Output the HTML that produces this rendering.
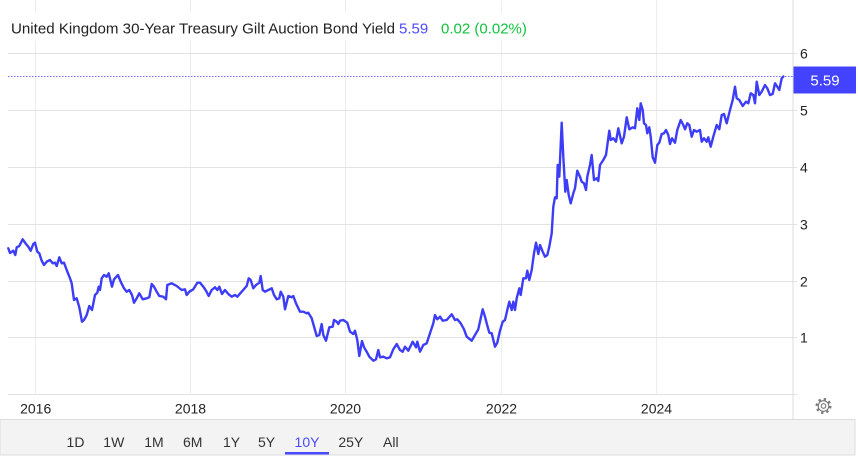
<!DOCTYPE html>
<html><head><meta charset="utf-8"><style>
html,body{margin:0;padding:0;background:#fff;}
svg{display:block;}
text{font-family:"Liberation Sans",Arial,sans-serif;}
</style></head><body>
<svg width="858" height="457" viewBox="0 0 858 457" xmlns="http://www.w3.org/2000/svg">
<rect width="858" height="457" fill="#fff"/>
<g stroke="#e9eef2" stroke-width="1">
<line x1="35.5" y1="0" x2="35.5" y2="394.5"/>
<line x1="190.5" y1="0" x2="190.5" y2="394.5"/>
<line x1="345.5" y1="0" x2="345.5" y2="394.5"/>
<line x1="501.5" y1="0" x2="501.5" y2="394.5"/>
<line x1="656.5" y1="0" x2="656.5" y2="394.5"/>
</g>
<g stroke="#e3e3e3" stroke-width="1">
<line x1="8" y1="53.5" x2="797" y2="53.5"/>
<line x1="8" y1="110.5" x2="797" y2="110.5"/>
<line x1="8" y1="167.5" x2="797" y2="167.5"/>
<line x1="8" y1="224.5" x2="797" y2="224.5"/>
<line x1="8" y1="281.5" x2="797" y2="281.5"/>
<line x1="8" y1="337.5" x2="797" y2="337.5"/>
<line x1="8" y1="394.5" x2="797" y2="394.5"/>
</g>
<line x1="793" y1="0" x2="793" y2="420" stroke="#dddddd" stroke-width="1"/>
<rect x="0" y="13" width="535" height="27.5" fill="#fff"/>
<text x="11" y="33.3" font-size="15" fill="#222" textLength="384" lengthAdjust="spacingAndGlyphs">United Kingdom 30-Year Treasury Gilt Auction Bond Yield</text>
<text x="399" y="33.3" font-size="15" fill="#4b4bff">5.59</text>
<text x="441" y="33.3" font-size="15" fill="#12c23e">0.02 (0.02%)</text>
<line x1="8" y1="76.5" x2="793" y2="76.5" stroke="#6f6fff" stroke-width="1" stroke-dasharray="1.5,1.5"/>
<polyline fill="none" stroke="#3d3df7" stroke-width="2.4" stroke-linejoin="round" stroke-linecap="round" points="8.3,248.3 10,253 13.3,250.7 15.3,255 16.7,247.3 19.3,246 22.7,239.3 26,244 28.3,246.7 30.7,250.7 33.3,244 35,242.7 37.3,251.7 39.3,253.3 41.7,260.7 44,265 46.7,261.7 50,260 52.7,263.3 55,262.7 56.7,266 59.3,257.3 61.7,263.3 64,262.7 66.7,270 70,278.3 71.7,283.3 74,300 76.7,298.3 79.3,307.3 82,321.7 84,320 86.7,315 89.3,306 92,310 95,295 97.3,292.7 98.7,286.7 100,290 101.7,278.3 104,275 106.7,276.7 108.7,273.3 112,286.7 114,279.3 118,275 120.7,281.7 124,288.3 126.7,291.7 129.3,290 132,295 134,302.7 136.7,298.3 139.3,293.3 142.7,299.3 146.7,298.3 149.3,297.3 151.7,284 154,286.7 156.7,291.7 159.3,296 163.3,296.7 166,299.3 167.3,285 171.7,283.3 176.7,286 181.7,290 185,289.3 186.7,295 189.3,291.7 193.3,289.3 197.3,282.7 200,282.7 203.3,286.7 206,290.7 208.7,296 211.7,290 215,287.3 217.3,290 219.3,286.7 222,294 225,290 228.3,294 231.7,296.7 235,295 237.3,296.7 241.7,291.7 246.7,286 248.7,278.3 250.7,280 253.3,288.3 256,285 259.3,282.7 260.7,276 262.7,290 265,291.7 268.3,290 271.7,288.3 274,295 276.7,299.3 279.3,298.3 280.7,291.7 283.3,296.7 285,309.3 288.3,296 291.7,297.3 293.3,296 296,303.3 300,311.7 303.3,311.7 306.7,313.3 308.3,312.7 311.7,318.3 316.7,336 319.3,335 321.7,324 323.3,335 326,340.7 329.3,327.3 332.7,326.7 334,320 336.7,321.7 338.3,324 340,320.7 343.3,320 347.3,322.7 350,331.7 353.3,334 355,330.7 357.3,340 359.3,356 362,341 364,347.3 366.7,351.7 369.3,356.7 373.3,360.7 376,359.3 378.3,350 380,357.3 383.3,356.7 386.7,358.3 390,357.3 393.3,349.3 396.7,344 400,350 402.7,351.7 405,346.7 408.3,350.7 412.7,341.7 416,347.3 417.3,341.7 420,351.7 423.3,345 426.7,343.3 430,333.3 433.3,323.3 435,315 437.3,319.3 440,316.7 442.7,320.7 446.7,320 451.7,314.3 455,320 457.3,319.3 460.7,323.3 464,329.3 466.7,336.7 471.7,340.7 475,335 478.3,329.3 482.7,309.3 485,316.7 486.7,323.3 489.3,332.7 491.7,333.3 495,346.7 497.3,342.7 500,330.7 502.7,321.7 505,320 507.3,310 509.3,301.7 511.7,310 513.3,301.7 515,310 516.7,298.3 519.3,288.3 520.7,295 523.3,278.3 526,278.3 527.3,270.7 529.3,280 531.7,270 534,253.3 536,242.7 538.3,254 540,245 542.7,251.7 545,256.7 547.3,255 549.3,246.7 551.7,233.3 553.3,206.7 555,197.3 556.7,198.3 557.7,165 559.3,176.7 561.7,122.7 563.3,156.7 565.3,191.7 566.7,180 568.7,195 570.7,203.3 573.3,193.3 575,188.3 577.3,170.7 580,176.7 581.7,181.7 584,183.3 586,190 587.3,176.7 590,165 591.7,155 594,180 596.7,178.3 598.3,181 600,165 603.3,160 606,155 609.3,130.7 610.7,140 613.3,138.3 616,141.7 618.3,128.3 621.7,143.3 624,136.7 626.7,117.3 629.3,129.3 632.7,127.3 635,128.3 637.3,108.3 639.3,120 640.7,103.3 642.7,110 644,123.3 646,125 647.3,133.3 649.3,127.3 650.7,136.7 652.7,157.3 655,162.7 657.3,145 659.3,142.7 661.7,134 664,133.3 666,130 668.3,135 670,144 672,138.3 675,142.7 677.3,130 680.7,120 683.3,125 685,129.3 687.3,123.3 689.3,125 691.7,136.7 694,130 696.7,131.7 700,130 701.7,141.7 704,138.3 706.7,141.7 708.3,137.3 710.7,146.7 713.3,136.7 716.7,125 719.3,129.3 721.7,115 724,114 726.7,123.3 730,110 732.7,100 735,86.7 736.7,98.3 739.3,100 742.7,106 746,101.7 748.3,103.3 750.7,93.3 753.3,95 755,103.3 756.7,81.7 759.3,95 761.7,91.7 765,85 767.3,88.3 770,95 772.7,94 775,83.3 777.3,86.7 779.3,90 781.7,78.3 783.3,76.5"/>
<rect x="793.5" y="66.5" width="62.5" height="27" fill="#4343ff"/>
<text x="825" y="85.5" font-size="15" fill="#fff" text-anchor="middle">5.59</text>
<g font-size="14" fill="#222">
<text x="800" y="58.5">6</text>
<text x="800" y="115.5">5</text>
<text x="800" y="172.5">4</text>
<text x="800" y="229.5">3</text>
<text x="800" y="286.5">2</text>
<text x="800" y="342.5">1</text>
</g>
<g font-size="14" fill="#222" text-anchor="middle">
<text x="35.7" y="413.3">2016</text>
<text x="190.5" y="413.3">2018</text>
<text x="345.5" y="413.3">2020</text>
<text x="501.5" y="413.3">2022</text>
<text x="656.5" y="413.3">2024</text>
</g>
<g transform="translate(823.5,406)">
<circle r="6.6" fill="none" stroke="#7a7a7a" stroke-width="2.8" stroke-dasharray="2.3,2.88"/>
<circle r="5.3" fill="#fff" stroke="#7a7a7a" stroke-width="1.1"/>
<circle r="2.3" fill="none" stroke="#7a7a7a" stroke-width="1.1"/>
</g>
<rect x="0" y="419.5" width="855" height="35.5" fill="#f3f3f3" stroke="#dcdcdc" stroke-width="1"/>
<g font-size="14" fill="#333" text-anchor="middle">
<text x="75.5" y="447">1D</text>
<text x="113.8" y="447">1W</text>
<text x="154" y="447">1M</text>
<text x="192.7" y="447">6M</text>
<text x="231.5" y="447">1Y</text>
<text x="266.5" y="447">5Y</text>
<text x="307" y="447" fill="#4a4aff">10Y</text>
<text x="350.8" y="447">25Y</text>
<text x="390.8" y="447">All</text>
</g>
<rect x="285" y="452" width="44" height="2.5" fill="#4a4aff"/>
</svg>
</body></html>
